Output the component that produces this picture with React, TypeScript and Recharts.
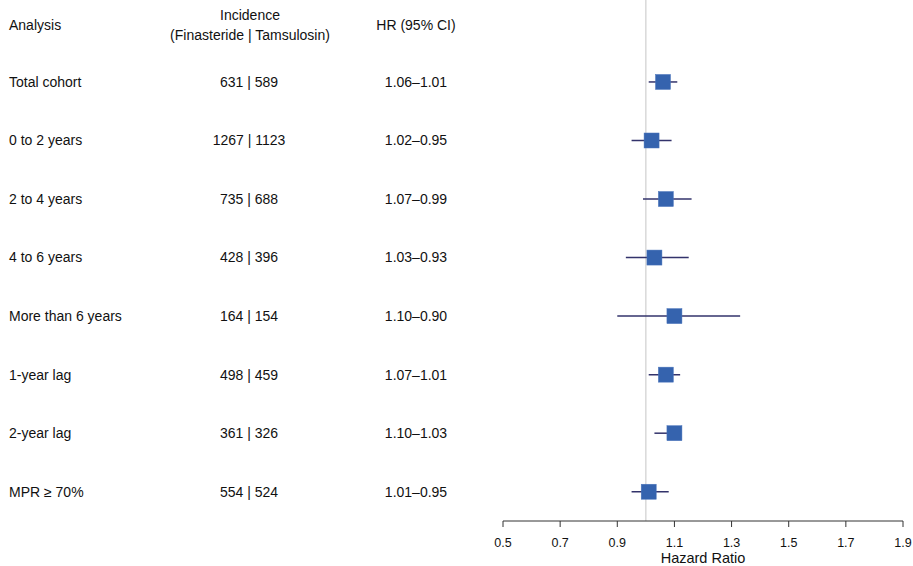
import React from "react"
import { ScatterChart, Scatter, XAxis, YAxis, ErrorBar, ReferenceLine } from "recharts"

const analyses = [
  "Total cohort",
  "0 to 2 years",
  "2 to 4 years",
  "4 to 6 years",
  "More than 6 years",
  "1-year lag",
  "2-year lag",
  "MPR ≥ 70%",
]
const incidence = [
  "631 | 589",
  "1267 | 1123",
  "735 | 688",
  "428 | 396",
  "164 | 154",
  "498 | 459",
  "361 | 326",
  "554 | 524",
]
const hrLabels = [
  "1.06–1.01",
  "1.02–0.95",
  "1.07–0.99",
  "1.03–0.93",
  "1.10–0.90",
  "1.07–1.01",
  "1.10–1.03",
  "1.01–0.95",
]
const hr = [1.06, 1.02, 1.07, 1.03, 1.1, 1.07, 1.1, 1.01]
const lower = [1.01, 0.95, 0.99, 0.93, 0.9, 1.01, 1.03, 0.95]
const upper = [1.11, 1.09, 1.16, 1.15, 1.33, 1.12, 1.12, 1.08]
const xTicks = [0.5, 0.7, 0.9, 1.1, 1.3, 1.5, 1.7, 1.9]

const HEADER = -0.975

const rows = analyses.map((name, i) => ({
  row: i,
  name,
  hr: hr[i],
  err: [hr[i] - lower[i], upper[i] - hr[i]],
}))

const font = "Liberation Sans, Arial, Helvetica, sans-serif"

function TableTick(props: any) {
  const { y, payload } = props
  const v = payload.value
  if (v === HEADER) {
    return (
      <g fontFamily={font} fontSize={14} fill="#111">
        <text x={9} y={y} dy="0.35em" textAnchor="start">Analysis</text>
        <text x={250} y={y - 10} dy="0.35em" textAnchor="middle">Incidence</text>
        <text x={250} y={y + 10} dy="0.35em" textAnchor="middle">(Finasteride | Tamsulosin)</text>
        <text x={416} y={y} dy="0.35em" textAnchor="middle">HR (95% CI)</text>
      </g>
    )
  }
  const i = Math.round(v)
  return (
    <g fontFamily={font} fontSize={14} fill="#111">
      <text x={9} y={y} dy="0.35em" textAnchor="start">{analyses[i]}</text>
      <text x={249} y={y} dy="0.35em" textAnchor="middle">{incidence[i]}</text>
      <text x={416} y={y} dy="0.35em" textAnchor="middle">{hrLabels[i]}</text>
    </g>
  )
}

function Square(props: any) {
  const { cx, cy } = props
  const s = 15
  return <rect x={cx - s / 2} y={cy - s / 2} width={s} height={s} fill="#3563ae" stroke="#4a74bb" strokeWidth={0.5} />
}

export default function App() {
  return (
    <div style={{ position: "absolute", left: 0, top: 0, background: "#fff" }}>
      <ScatterChart width={913} height={566} margin={{ top: 0, right: 10, bottom: 0, left: 0 }}>
        <XAxis
          type="number"
          dataKey="hr"
          domain={[0.5, 1.9]}
          ticks={xTicks}
          tickFormatter={(v) => v.toFixed(1)}
          height={45}
          stroke="#333"
          tickSize={6}
          tickMargin={11}
          tick={{ fill: "#111", fontSize: 12.5, fontFamily: font }}
          label={{ value: "Hazard Ratio", position: "insideBottom", offset: 3.2, fill: "#111", fontSize: 14.5, fontFamily: font }}
        />
        <YAxis
          type="number"
          dataKey="row"
          reversed
          domain={[-1.4, 7.5]}
          ticks={[HEADER, 0, 1, 2, 3, 4, 5, 6, 7]}
          width={503}
          axisLine={false}
          tickLine={false}
          interval={0}
          tick={<TableTick />}
        />
        <ReferenceLine x={1} stroke="#cfcfcf" strokeWidth={1.2} />
        <Scatter data={rows} shape={<Square />} isAnimationActive={false}>
          <ErrorBar dataKey="err" direction="x" width={0} stroke="#33336b" strokeWidth={1.5} isAnimationActive={false} />
        </Scatter>
      </ScatterChart>
    </div>
  )
}
